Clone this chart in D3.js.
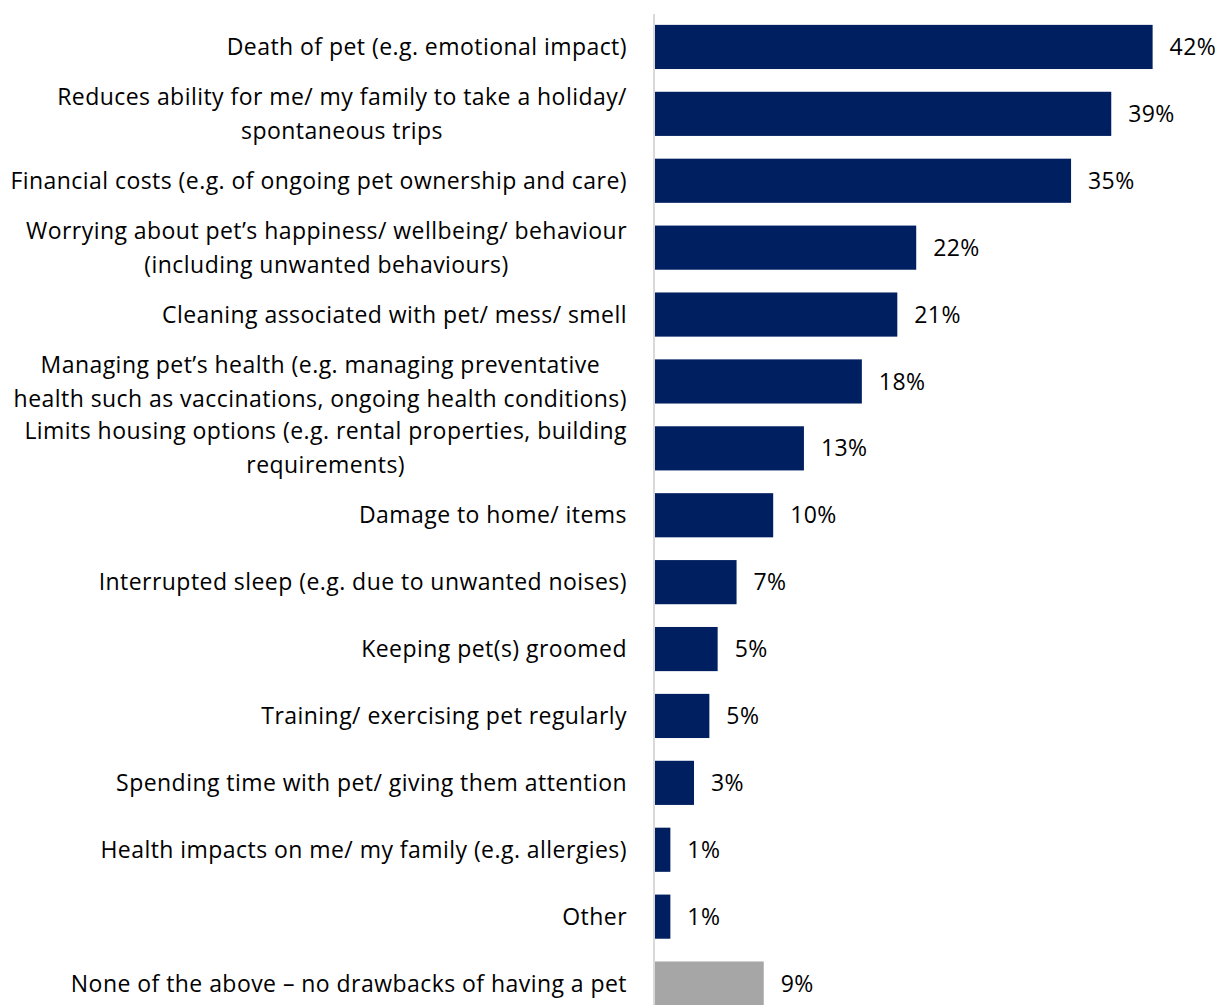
<!DOCTYPE html>
<html>
<head>
<meta charset="utf-8">
<script src="https://cdn.jsdelivr.net/npm/d3@7"></script>
<style>
	body { margin: 0; background: #fff; }
	svg { display: block; }
</style>
</head>
<body>
<svg></svg>
<script>
// Drawbacks of having a pet, horizontal bar chart

const categories = [
	"Death of pet (e.g. emotional impact)",
	"Reduces ability for me/ my family to take a holiday/|spontaneous trips",
	"Financial costs (e.g. of ongoing pet ownership and care)",
	"Worrying about pet\u2019s happiness/ wellbeing/ behaviour|(including unwanted behaviours)",
	"Cleaning associated with pet/ mess/ smell",
	"Managing pet\u2019s health (e.g. managing preventative|health such as vaccinations, ongoing health conditions)",
	"Limits housing options (e.g. rental properties, building|requirements)",
	"Damage to home/ items",
	"Interrupted sleep (e.g. due to unwanted noises)",
	"Keeping pet(s) groomed",
	"Training/ exercising pet regularly",
	"Spending time with pet/ giving them attention",
	"Health impacts on me/ my family (e.g. allergies)",
	"Other",
	"None of the above \u2013 no drawbacks of having a pet"
];

// percentages
const values = [42.1, 38.6, 35.2, 22.1, 20.5, 17.5, 12.6, 10.0, 6.9, 5.3, 4.6, 3.3, 1.3, 1.3, 9.2];

// "none" category drawn in grey
const noneIndex = [14];

var chart = (function() {
	const svgWidth = 1227;
	const svgHeight = 1005;
	const axisX = 655;
	const labelRight = 627;

	const data = categories.map((c, i) => ({ label: c, value: values[i], i: i }));

	return {
		render: function() {
			const scaleX = d3.scaleLinear()
				.domain([0, 45])
				.range([axisX, axisX + 45 * 11.82]);

			const scaleY = d3.scaleBand()
				.domain(data.map(d => d.i))
				.range([13.5, 1017])
				.paddingInner(0.34)
				.paddingOuter(0.17);

			const svg = d3.select('svg')
				.attr('width', svgWidth)
				.attr('height', svgHeight)
				.style('font-family', '"Open Sans", sans-serif')
				.style('font-size', '23px')
				.style('letter-spacing', '0.45px')
				.style('fill', '#000');

			// bars
			svg.append('g').selectAll('rect')
				.data(data)
				.join('rect')
				.attr('x', scaleX(0))
				.attr('y', d => scaleY(d.i))
				.attr('width', d => scaleX(d.value) - scaleX(0))
				.attr('height', scaleY.bandwidth())
				.attr('fill', d => noneIndex.includes(d.i) ? '#a6a6a6' : '#001f60');

			// axis line
			svg.append('line')
				.attr('x1', axisX - 1).attr('x2', axisX - 1)
				.attr('y1', 14).attr('y2', svgHeight)
				.attr('stroke', '#d9d9d9')
				.attr('stroke-width', 2);

			// value labels
			svg.append('g').selectAll('text')
				.data(data)
				.join('text')
				.attr('x', d => scaleX(d.value) + 17)
				.attr('y', d => scaleY(d.i) + scaleY.bandwidth() / 2)
				.attr('dy', '0.35em')
				.style('letter-spacing', '0.4px')
				.text(d => Math.round(d.value) + '%');

			// category labels, multi-line blocks centred on their widest line
			const lineH = 34;
			const labels = svg.append('g').selectAll('text')
				.data(data)
				.join('text')
				.attr('text-anchor', 'middle');

			labels.each(function(d) {
				const el = d3.select(this);
				const lines = d.label.split('|');
				const cy = scaleY(d.i) + scaleY.bandwidth() / 2;
				lines.forEach((ln, k) => {
					el.append('tspan')
						.attr('y', cy + (k - (lines.length - 1) / 2) * lineH)
						.attr('dy', '0.35em')
						.text(ln);
				});
				let maxW = 0;
				el.selectAll('tspan').each(function() {
					maxW = Math.max(maxW, this.getComputedTextLength());
				});
				el.selectAll('tspan').attr('x', labelRight - maxW / 2);
			});
		}
	};
}());

chart.render();
</script>
</body>
</html>
